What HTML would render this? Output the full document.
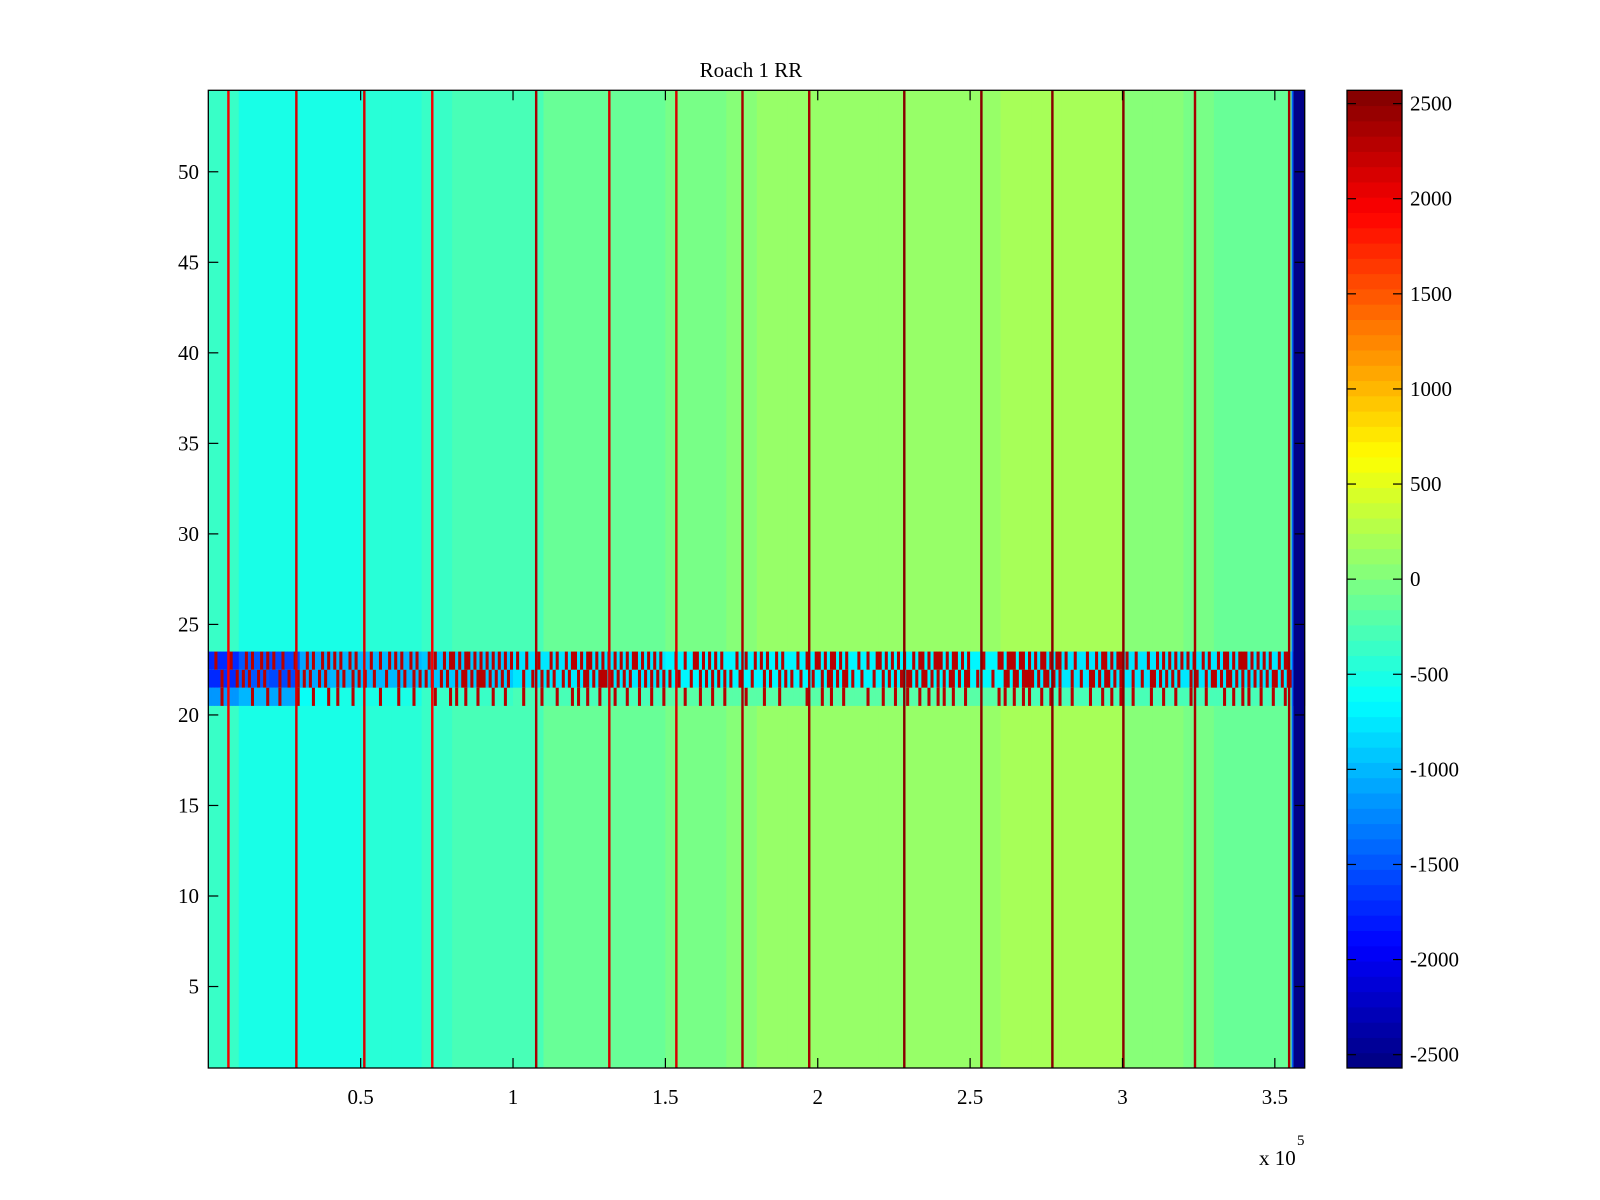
<!DOCTYPE html>
<html><head><meta charset="utf-8"><style>
html,body{margin:0;padding:0;background:#fff;}
svg{display:block;font-family:"Liberation Serif",serif;}
</style></head><body>
<svg id="fig" width="1600" height="1200" viewBox="0 0 1600 1200" xmlns="http://www.w3.org/2000/svg">
<rect x="0" y="0" width="1600" height="1200" fill="#fff"/>
<text x="751" y="77" font-size="21" text-anchor="middle">Roach 1 RR</text>
<g id="cells"></g>
<g id="axes"></g>
<g id="cbar"></g>
</svg>
<script>
// ---- data ----
const segStart = [0,0.1,0.2,0.3,0.4,0.5,0.6,0.7,0.8,0.9,1.0,1.1,1.2,1.3,1.4,1.5,1.6,1.7,1.8,1.9,2.0,2.1,2.2,2.3,2.4,2.5,2.6,2.7,2.8,2.9,3.0,3.1,3.2,3.3,3.4,3.5]; // x in 1e5
const segMean = [-400,-500,-500,-550,-500,-450,-450,-350,-300,-300,-250,-150,-150,-100,-100,-50,-50,0,100,100,150,150,100,150,150,150,200,200,200,200,50,0,-50,-100,-100,-100];
const bandMix = [0.2,0.4,0.3,0.4,0.4,0.3,0.4,0.4,0.6,0.5,0.3,0.4,0.6,0.5,0.5,0.3,0.5,0.3,0.4,0.3,0.6,0.3,0.5,0.6,0.6,0.2,0.7,0.6,0.3,0.6,0.3,0.5,0.4,0.6,0.5,0.6];
const bandLo = [-1700,-1500,-1600,-1100,-1000,-1000,-1000,-900,-900,-900,-800,-800,-800,-800,-800,-700,-700,-700,-700,-700,-700,-700,-700,-700,-700,-700,-700,-800,-800,-800,-800,-800,-800,-800,-800,-800];
const bandHi = 2300;
const bandRows = [22,23];
const semiRows = [21];
const spikeX = [0.066,0.289,0.512,0.735,1.076,1.316,1.536,1.753,1.972,2.284,2.537,2.770,3.003,3.238,3.547];
const spikeVal = [2000,2100,2100,2000,2400,2100,2100,2400,2400,2500,2500,2500,2500,2400,2400];
const spikeW = 0.008;
const endX = [3.555,3.561];
const endVal = [-1500,-2550];
const xMax = 3.598;
const nRows = 54;
const cMin = -2570, cMax = 2570;
const xTicks = [0.5,1,1.5,2,2.5,3,3.5];
const xTickLabels = ["0.5","1","1.5","2","2.5","3","3.5"];
const yTicks = [5,10,15,20,25,30,35,40,45,50];
const cTicks = [-2500,-2000,-1500,-1000,-500,0,500,1000,1500,2000,2500];

// ---- geometry ----
const PX0=208.3, PX1=1304.7, PY0=90.3, PY1=1068;
const CX0=1347, CX1=1402;
const NS='http://www.w3.org/2000/svg';
function xs(v){return PX0+(v/xMax)*(PX1-PX0);}
function ys(v){return PY1-(v-0.5)/nRows*(PY1-PY0);}
function cs(v){return PY1-(v-cMin)/(cMax-cMin)*(PY1-PY0);}
function clamp(a){return Math.max(0,Math.min(1,a));}
function jet(v){
  let t=(v-cMin)/(cMax-cMin); t=clamp(t);
  let k=Math.min(63,Math.floor(t*64)); t=(k+0.5)/64;
  const r=clamp(1.5-Math.abs(4*t-3)), g=clamp(1.5-Math.abs(4*t-2)), b=clamp(1.5-Math.abs(4*t-1));
  return 'rgb('+Math.round(r*255)+','+Math.round(g*255)+','+Math.round(b*255)+')';
}
function mk(tag,attrs,parent){const e=document.createElementNS(NS,tag);for(const k in attrs)e.setAttribute(k,attrs[k]);parent.appendChild(e);return e;}

const cells=document.getElementById('cells');
for(let i=0;i<segStart.length;i++){
  const x0=segStart[i], x1=(i+1<segStart.length)?segStart[i+1]:xMax;
  const r=mk('rect',{x:xs(x0),y:PY0,width:xs(x1)-xs(x0)+0.5,height:PY1-PY0,fill:jet(segMean[i])},cells);
  
  
}
function drawBand(rows,scale,loShift){
  for(const row of rows){
    const y0=ys(row+0.5), y1=ys(row-0.5);
    for(let i=0;i<segStart.length;i++){
      const x0=segStart[i], x1=(i+1<segStart.length)?segStart[i+1]:xMax;
      const n=10, mix=bandMix[i]*scale;
      for(let k=0;k<n;k++){
        const hi=Math.floor((k+1)*mix+((row*3+i)%2)*0.5)>Math.floor(k*mix+((row*3+i)%2)*0.5);
        const v=hi?bandHi:bandLo[i]+loShift;
        const a=x0+(x1-x0)*k/n, b=x0+(x1-x0)*(k+1)/n;
        const r=mk('rect',{x:xs(a),y:y0,width:xs(b)-xs(a)+0.4,height:y1-y0,fill:jet(v)},cells);
        
        
      }
    }
  }
}
drawBand(bandRows,1,0);
drawBand(semiRows,0.5,500);
for(let i=0;i<spikeX.length;i++){
  const r=mk('rect',{x:xs(spikeX[i]-spikeW/2),y:PY0,width:xs(spikeW)-xs(0),height:PY1-PY0,fill:jet(spikeVal[i])},cells);
  
  
}
for(let i=0;i<endX.length;i++){
  const x1=(i+1<endX.length)?endX[i+1]:xMax;
  const r=mk('rect',{x:xs(endX[i]),y:PY0,width:xs(x1)-xs(endX[i]),height:PY1-PY0,fill:jet(endVal[i])},cells);
  
  
}

const ax=document.getElementById('axes');
const frame=mk('rect',{x:PX0,y:PY0,width:PX1-PX0,height:PY1-PY0,fill:'none',stroke:'#000','stroke-width':1.3},ax);


for(let i=0;i<xTicks.length;i++){
  const x=xs(xTicks[i]);
  const t1=mk('line',{x1:x,y1:PY1,x2:x,y2:PY1-10,stroke:'#000','stroke-width':1.2},ax);
  
  
  const t2=mk('line',{x1:x,y1:PY0,x2:x,y2:PY0+10,stroke:'#000','stroke-width':1.2},ax);
  
  
  const l=mk('text',{x:x,y:1104,'font-size':21,'text-anchor':'middle'},ax);
  l.textContent=xTickLabels[i];
  
  
}
for(let i=0;i<yTicks.length;i++){
  const y=ys(yTicks[i]);
  const t1=mk('line',{x1:PX0,y1:y,x2:PX0+10,y2:y,stroke:'#000','stroke-width':1.2},ax);
  
  
  const t2=mk('line',{x1:PX1,y1:y,x2:PX1-10,y2:y,stroke:'#000','stroke-width':1.2},ax);
  
  
  const l=mk('text',{x:199,y:y+7,'font-size':21,'text-anchor':'end'},ax);
  l.textContent=String(yTicks[i]);
  
  
}
const ex=mk('text',{x:1259,y:1165,'font-size':21},ax);
ex.textContent='x 10';


const ex5=mk('text',{x:1297,y:1145,'font-size':15},ax);
ex5.textContent='5';



const cb=document.getElementById('cbar');
for(let k=0;k<64;k++){
  const v0=cMin+(cMax-cMin)*k/64, v1=cMin+(cMax-cMin)*(k+1)/64;
  const r=mk('rect',{x:CX0,y:cs(v1),width:CX1-CX0,height:cs(v0)-cs(v1)+0.5,fill:jet((v0+v1)/2)},cb);
  
  
}
const cf=mk('rect',{x:CX0,y:PY0,width:CX1-CX0,height:PY1-PY0,fill:'none',stroke:'#000','stroke-width':1.3},cb);


for(let i=0;i<cTicks.length;i++){
  const y=cs(cTicks[i]);
  const t1=mk('line',{x1:CX0,y1:y,x2:CX0+9,y2:y,stroke:'#000','stroke-width':1.2},cb);
  
  
  const t2=mk('line',{x1:CX1,y1:y,x2:CX1-9,y2:y,stroke:'#000','stroke-width':1.2},cb);
  
  
  const l=mk('text',{x:1410,y:y+7,'font-size':21},cb);
  l.textContent=String(cTicks[i]);
  
  
}
</script>
</body></html>
